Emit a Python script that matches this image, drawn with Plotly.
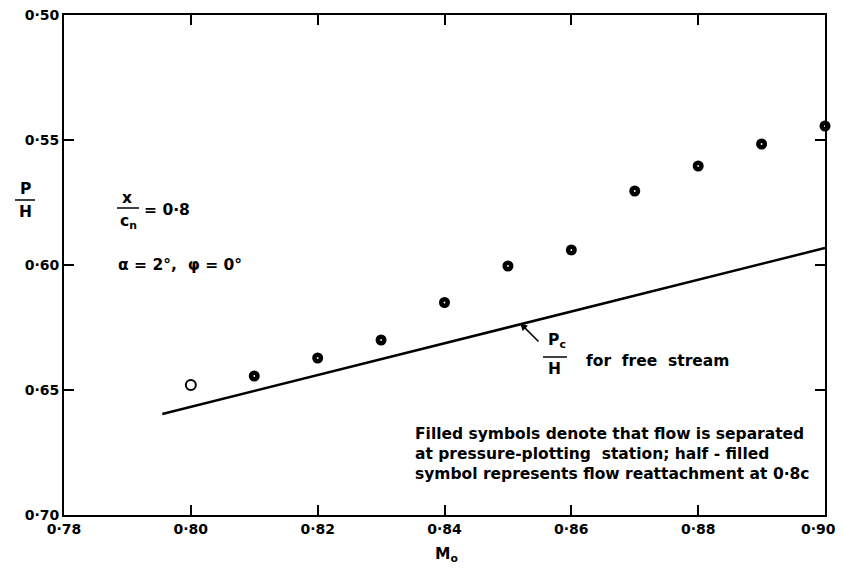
import plotly.graph_objects as go

# Mach number and P/H
mach_open = [0.80]
ph_open = [0.648]
mach_filled = [0.81, 0.82, 0.83, 0.84, 0.85, 0.86, 0.87, 0.88, 0.89, 0.90]
ph_filled = [0.6444, 0.6372, 0.6300, 0.6150, 0.6004, 0.5940, 0.5704, 0.5604, 0.5516, 0.5444]

# free stream Pc/H line
mach_free = [0.7955, 0.90]
pc_free = [0.6596, 0.5932]

x_ticks = [0.78, 0.80, 0.82, 0.84, 0.86, 0.88, 0.90]
x_labels = ["0·78", "0·80", "0·82", "0·84", "0·86", "0·88", "0·90"]
y_ticks = [0.50, 0.55, 0.60, 0.65, 0.70]
y_labels = ["0·50", "0·55", "0·60", "0·65", "0·70"]

# page has an 8px body margin, so the figure is shrunk and shifted to fit
OFF = 8
W, H = 843 - 2 * OFF, 572 - 2 * OFF
L, T = 64 - OFF, 15 - OFF
PW, PH = 761, 500
R, B = W - L - PW, H - T - PH
FONT = "DejaVu Sans"


def px(x, y):
    # page pixel position -> paper coords
    return (x - OFF - L) / PW, 1 - (y - OFF - T) / PH


fig = go.Figure()
fig.add_trace(go.Scatter(x=mach_free, y=pc_free, mode="lines",
                         line=dict(color="black", width=2.5)))
fig.add_trace(go.Scatter(x=mach_open, y=ph_open, mode="markers",
                         marker=dict(symbol="circle-open", size=10, color="black",
                                     line=dict(width=2))))
fig.add_trace(go.Scatter(x=mach_filled, y=ph_filled, mode="markers", cliponaxis=False,
                         marker=dict(symbol="circle", size=11, color="black")))
fig.add_trace(go.Scatter(x=mach_filled, y=ph_filled, mode="markers", cliponaxis=False,
                         marker=dict(symbol="circle", size=1.8, color="white")))

anns = []
shapes = []


def text(s, x, y, size=15.5, xanchor="center"):
    xp, yp = px(x, y)
    anns.append(dict(text=s, x=xp, y=yp, xref="paper", yref="paper", showarrow=False,
                     xanchor=xanchor, yanchor="middle", align="left",
                     font=dict(family=FONT, size=size, color="black")))


def bar(x0, x1, y):
    a, b = px(x0, y)
    c, _ = px(x1, y)
    shapes.append(dict(type="line", xref="paper", yref="paper", x0=a, x1=c, y0=b, y1=b,
                       line=dict(color="black", width=1.5)))


# y axis label P/H
text("<b>P</b>", 25, 189)
bar(15, 35, 200)
text("<b>H</b>", 25, 212)

# x/cn = 0.8
text("<b>x</b>", 127, 198)
bar(117, 139, 208)
text("<b>c<sub>n</sub></b>", 128, 222)
text("<b>= 0·8</b>", 142, 210, xanchor="left")
text("<b>α = 2°,  φ = 0°</b>", 116, 265, xanchor="left")

# Pc/H for free stream
text("<b>P<sub>c</sub></b>", 557, 341)
bar(543, 567, 357)
text("<b>H</b>", 554, 369)
text("<b>for  free  stream</b>", 584, 361, xanchor="left")
xa, ya = px(520, 323)
anns.append(dict(x=xa, y=ya, xref="paper", yref="paper", text="", showarrow=True,
                 arrowhead=2, arrowsize=1, arrowwidth=1.5, arrowcolor="black",
                 ax=20, ay=20))

text("<b>Filled symbols denote that flow is separated<br>"
     "at pressure-plotting  station; half - filled<br>"
     "symbol represents flow reattachment at 0·8c</b>", 413, 454, xanchor="left")

# x axis title
text("<b>M<sub>o</sub></b>", 446, 555)

# last x label would run past the div edge, pad it so it stays visible
x_text = ["<b>%s</b>" % t for t in x_labels]
x_text[-1] = x_text[-1] + "\u00a0\u00a0\u00a0"

fig.update_layout(
    width=W, height=H,
    margin=dict(l=L, r=R, t=T, b=B, autoexpand=False),
    paper_bgcolor="white", plot_bgcolor="white",
    showlegend=False,
    annotations=anns, shapes=shapes,
    font=dict(family=FONT, size=14, color="black"),
)
fig.update_xaxes(range=[0.78, 0.90], tickvals=x_ticks, ticktext=x_text,
                 ticks="inside", ticklen=10, tickwidth=2, tickcolor="black",
                 showline=True, linewidth=2, linecolor="black", mirror="ticks",
                 showgrid=False, zeroline=False, tickfont=dict(size=14),
                 ticklabeloverflow="allow")
fig.update_yaxes(range=[0.70, 0.50], tickvals=y_ticks, ticktext=["<b>%s</b>" % t for t in y_labels],
                 ticks="inside", ticklen=10, tickwidth=2, tickcolor="black",
                 showline=True, linewidth=2, linecolor="black", mirror="ticks",
                 showgrid=False, zeroline=False, tickfont=dict(size=14),
                 ticklabeloverflow="allow")

fig.write_html("out.html")
